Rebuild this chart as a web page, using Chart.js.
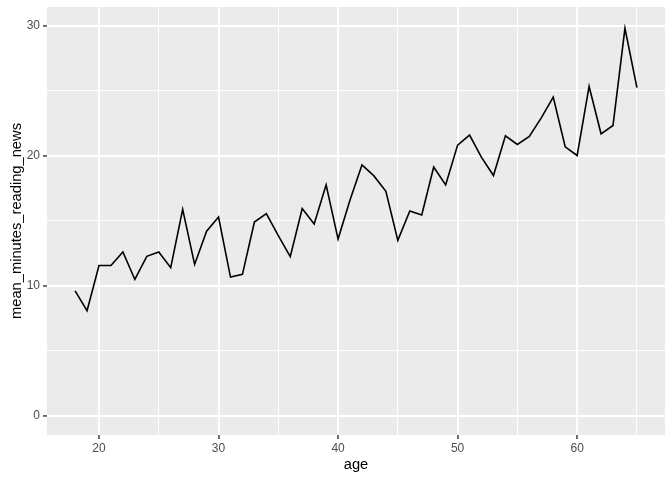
<!DOCTYPE html>
<html>
<head>
<meta charset="utf-8">
<script src="https://cdn.jsdelivr.net/npm/chart.js@4"></script>
<style>
  html, body { margin: 0; padding: 0; background: #ffffff; }
  #wrap { width: 672px; height: 480px; position: relative; }
</style>
</head>
<body>
<div id="wrap"><canvas id="c" width="672" height="480"></canvas></div>
<script>
const ages = [18,19,20,21,22,23,24,25,26,27,28,29,30,31,32,33,34,35,36,37,38,39,40,41,42,43,44,45,46,47,48,49,50,51,52,53,54,55,56,57,58,59,60,61,62,63,64,65];
const meanMinutes = [9.6,8.07,11.56,11.56,12.59,10.48,12.26,12.6,11.39,15.88,11.64,14.2,15.29,10.66,10.87,14.9,15.55,13.85,12.24,15.94,14.75,17.76,13.59,16.6,19.3,18.45,17.27,13.49,15.75,15.44,19.14,17.76,20.82,21.59,19.87,18.48,21.53,20.87,21.49,22.92,24.52,20.69,20.02,25.34,21.69,22.33,29.81,25.24];
const xTicks = [20,25,30,35,40,45,50,55,60,65];
const xMajor = [20,30,40,50,60];
const yTicks = [0,5,10,15,20,25,30];
const yMajor = [0,10,20,30];

const panelBg = {
  id: 'panelBg',
  beforeDraw(chart) {
    const {ctx, chartArea: a} = chart;
    ctx.save();
    ctx.fillStyle = '#EBEBEB';
    ctx.fillRect(a.left, a.top, a.right - a.left, a.bottom - a.top);
    ctx.restore();
  }
};

const tickFont = { family: '"Liberation Sans", Arial, sans-serif', size: 12 };
const titleFont = { family: '"Liberation Sans", Arial, sans-serif', size: 14.7 };

function isMajor(list, v) { return list.indexOf(v) !== -1; }

new Chart(document.getElementById('c'), {
  type: 'line',
  data: {
    datasets: [{
      data: ages.map((a, i) => ({ x: a, y: meanMinutes[i] })),
      borderColor: '#000000',
      borderWidth: 1.6,
      pointRadius: 0,
      tension: 0,
      fill: false
    }]
  },
  plugins: [panelBg],
  options: {
    responsive: false,
    animation: false,
    devicePixelRatio: 1,
    layout: { padding: { top: 7, right: 7, left: 0, bottom: 0 } },
    plugins: { legend: { display: false }, tooltip: { enabled: false } },
    scales: {
      x: {
        type: 'linear',
        min: 15.65,
        max: 67.35,
        afterBuildTicks(s) { s.ticks = xTicks.map(v => ({ value: v })); },
        afterFit(s) { s.height = 45; s.paddingLeft = 0; s.paddingRight = 0; },
        border: { display: false },
        grid: {
          color: '#FFFFFF',
          lineWidth: c => (c.tick && isMajor(xMajor, c.tick.value)) ? 1.9 : 0.95,
          tickColor: c => (c.tick && isMajor(xMajor, c.tick.value)) ? '#333333' : 'rgba(0,0,0,0)',
          tickWidth: 1.4,
          tickLength: 4,
          drawTicks: true
        },
        ticks: {
          autoSkip: false,
          maxRotation: 0,
          padding: 2,
          color: '#4D4D4D',
          font: tickFont,
          callback: v => isMajor(xMajor, v) ? String(v) : ''
        },
        title: {
          display: true,
          text: 'age',
          color: '#000000',
          font: titleFont,
          padding: { top: 2, bottom: 6 }
        }
      },
      y: {
        type: 'linear',
        min: -1.49,
        max: 31.45,
        afterBuildTicks(s) { s.ticks = yTicks.map(v => ({ value: v })); },
        afterFit(s) { s.width = 47; s.paddingTop = 0; s.paddingBottom = 0; },
        border: { display: false },
        grid: {
          color: '#FFFFFF',
          lineWidth: c => (c.tick && isMajor(yMajor, c.tick.value)) ? 1.9 : 0.95,
          tickColor: c => (c.tick && isMajor(yMajor, c.tick.value)) ? '#333333' : 'rgba(0,0,0,0)',
          tickWidth: 1.4,
          tickLength: 4,
          drawTicks: true
        },
        ticks: {
          autoSkip: false,
          padding: 3,
          color: '#4D4D4D',
          font: tickFont,
          callback: v => isMajor(yMajor, v) ? String(v) : ''
        },
        title: {
          display: true,
          text: 'mean_minutes_reading_news',
          color: '#000000',
          font: titleFont,
          padding: { top: 8, bottom: 2 }
        }
      }
    }
  }
});
</script>
</body>
</html>
